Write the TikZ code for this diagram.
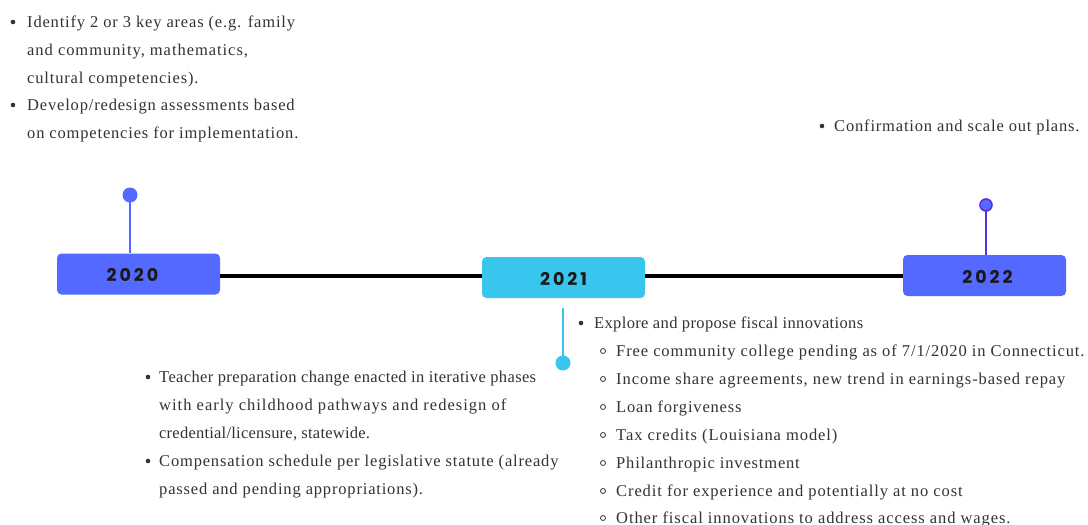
\documentclass[tikz,border=0pt]{standalone}
\usepackage{fontspec}
\setmainfont{Liberation Serif}[LetterSpace=5]
\newfontfamily\yearfont[LetterSpace=17]{Poppins Bold}
\newcommand{\track}[1]{\addfontfeature{LetterSpace=#1}}
\begin{document}
\begin{tikzpicture}[x=1pt,y=-1pt,
  line/.style={anchor=base west,inner sep=0pt,text=textgray,font=\fontsize{16.5}{19}\selectfont},
  dot/.style={circle,fill=textgray,inner sep=0pt,minimum size=4.6pt},
  ring/.style={circle,draw=textgray,line width=0.8pt,inner sep=0pt,minimum size=5pt},
  yearbox/.style={rounded corners=4.5pt,minimum width=163pt,minimum height=41pt,inner sep=0pt},
  yeartext/.style={inner sep=0pt,font=\yearfont\fontsize{17.5}{20}\selectfont,text=black!90},
  pin/.style={line width=1.6pt},
  timeline/.style={line width=4.5pt,black}]
\definecolor{textgray}{HTML}{333333}
\definecolor{blueA}{HTML}{5469FF}
\definecolor{cyanA}{HTML}{38C6EE}
\definecolor{purpleA}{HTML}{5B30E0}
\useasboundingbox (0,0) rectangle (1088,525);
\fill[white] (0,0) rectangle (1088,525);

% year boxes and their labels
\node[yearbox,fill=blueA] (y20) at (138.5,274) {};
\node[yeartext] (t20) at (132.5,274.5) {2020};
\node[yearbox,fill=cyanA] (y21) at (563.5,277.5) {};
\node[yeartext] (t21) at (563.5,278.5) {2021};
\node[yearbox,fill=blueA] (y22) at (984.5,275.5) {};
\node[yeartext] (t22) at (987.5,276.5) {2022};

% timeline between the boxes
\draw[timeline] (y20.east |- 0,276) -- (y21.west |- 0,276);
\draw[timeline] (y21.east |- 0,276) -- (y22.west |- 0,276);

% pins
\node[circle,fill=blueA,inner sep=0pt,minimum size=15pt] (p20) at (130,195) {};
\draw[pin,blueA] (p20.center) -- (p20.center |- y20.north);
\coordinate (s21) at (563,308);
\node[circle,fill=cyanA,inner sep=0pt,minimum size=15pt] (p21) at (563,363) {};
\draw[pin,cyanA] (s21) -- (p21.center);
\draw[pin,purpleA] (986,205) -- (986,255);
\node[circle,fill=blueA,draw=purpleA,line width=1.6pt,inner sep=0pt,minimum size=12pt] (p22) at (986,205) {};

% 2020 notes
\node[dot] (b1) at (13,22) {};
\node[line] (l1) at (27,27) {Identify 2 or 3 key areas (e.g. family};
\node[line] (l2) at (27,55) {\track{5.8}and community, mathematics,};
\node[line] (l3) at (27,83) {cultural competencies).};
\node[dot] (b2) at (13,105) {};
\node[line] (l4) at (27,110.5) {Develop/redesign assessments based};
\node[line] (l5) at (27,138.5) {on competencies for implementation.};

% 2022 notes
\node[dot] (b3) at (822,126) {};
\node[line] (l6) at (834,131) {Confirmation and scale out plans.};

% 2021 notes, left column
\node[dot] (b4) at (148,377) {};
\node[line] (m1) at (159,382) {\track{2.2}Teacher preparation change enacted in iterative phases};
\node[line] (m2) at (159,410) {\track{6.1}with early childhood pathways and redesign of};
\node[line] (m3) at (159,438) {\track{1.4}credential/licensure, statewide.};
\node[dot] (b5) at (148,461) {};
\node[line] (m4) at (159,466) {Compensation schedule per legislative statute (already};
\node[line] (m5) at (159,494) {passed and pending appropriations).};

% 2021 notes, right column
\node[dot] (b6) at (581,323) {};
\node[line] (r0) at (594,328) {\track{2.1}Explore and propose fiscal innovations};
\node[ring] (c1) at (603,351) {};
\node[line] (r1) at (616,356) {\track{5.5}Free community college pending as of 7/1/2020 in Connecticut.};
\node[ring] (c2) at (603,379) {};
\node[line] (r2) at (616,384) {\track{5.7}Income share agreements, new trend in earnings-based repay};
\node[ring] (c3) at (603,407) {};
\node[line] (r3) at (616,412) {Loan forgiveness};
\node[ring] (c4) at (603,435) {};
\node[line] (r4) at (616,440) {\track{5.6}Tax credits (Louisiana model)};
\node[ring] (c5) at (603,463) {};
\node[line] (r5) at (616,468) {Philanthropic investment};
\node[ring] (c6) at (603,491) {};
\node[line] (r6) at (616,496) {\track{5.5}Credit for experience and potentially at no cost};
\node[ring] (c7) at (603,518) {};
\node[line] (r7) at (616,523) {\track{5.6}Other fiscal innovations to address access and wages.};
\end{tikzpicture}
\end{document}
